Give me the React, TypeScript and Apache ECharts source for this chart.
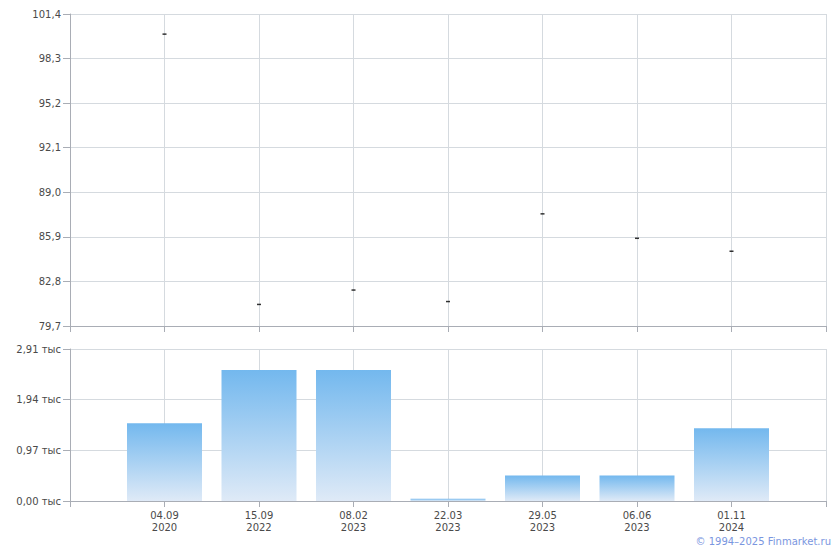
import React, { useEffect, useRef } from "react";
import * as echarts from "echarts";

// ---- data ----
const dateLabels = ["04.09\n2020", "15.09\n2022", "08.02\n2023", "22.03\n2023", "29.05\n2023", "06.06\n2023", "01.11\n2024"];
const prices = [100.0, 81.2, 82.2, 81.4, 87.5, 85.8, 84.9];
const volumes = [1490, 2510, 2510, 45, 490, 490, 1395];
const priceMin = 79.7;
const priceStep = 3.1;
const priceTickLabels = ["79,7", "82,8", "85,9", "89,0", "92,1", "95,2", "98,3", "101,4"];
const volumeStep = 970;
const volumeTickLabels = ["0,00 тыс", "0,97 тыс", "1,94 тыс", "2,91 тыс"];
const copyright = "© 1994–2025 Finmarket.ru";

const FONT = "DejaVu Sans, Verdana, sans-serif";
const AXIS = "#a9adb5";
const GRIDC = "#d5dadf";
const TXT = "#4a4a4a";

export default function App() {
  const ref = useRef<HTMLDivElement>(null);
  useEffect(() => {
    if (!ref.current) return;
    const chart = echarts.init(ref.current, undefined, { renderer: "svg" });
    const cats = ["", ...dateLabels, ""];
    const priceData: any[] = ["-", ...prices.map((p) => (p - priceMin) / priceStep), "-"];
    const volData: any[] = ["-", ...volumes, "-"];
    const xCommon = {
      type: "category",
      data: cats,
      boundaryGap: false,
      axisLine: { show: true, lineStyle: { color: AXIS, width: 1 } },
      axisTick: { show: true, interval: 0, length: 6, lineStyle: { color: AXIS } },
      splitLine: { show: true, interval: 0, lineStyle: { color: GRIDC, width: 1 } },
    };
    chart.setOption({
      animation: false,
      backgroundColor: "#ffffff",
      grid: [
        { left: 70, top: 14, width: 756, height: 312, containLabel: false },
        { left: 70, top: 349, width: 756, height: 152, containLabel: false },
      ],
      xAxis: [
        { ...xCommon, gridIndex: 0, axisLabel: { show: false } },
        {
          ...xCommon,
          gridIndex: 1,
          axisLabel: {
            show: true,
            interval: 0,
            margin: 8,
            color: TXT,
            fontFamily: FONT,
            fontSize: 10,
            lineHeight: 12,
            align: "center",
          },
        },
      ],
      yAxis: [
        {
          type: "value",
          gridIndex: 0,
          min: 0,
          max: priceTickLabels.length - 1,
          interval: 1,
          axisLine: { show: true, lineStyle: { color: AXIS } },
          axisTick: { show: true, length: 7, lineStyle: { color: AXIS } },
          splitLine: { show: true, lineStyle: { color: GRIDC } },
          axisLabel: {
            margin: 9,
            color: TXT,
            fontFamily: FONT,
            fontSize: 10,
            formatter: (v: number) => priceTickLabels[Math.round(v)] ?? "",
          },
        },
        {
          type: "value",
          gridIndex: 1,
          min: 0,
          max: volumeStep * (volumeTickLabels.length - 1),
          interval: volumeStep,
          axisLine: { show: true, lineStyle: { color: AXIS } },
          axisTick: { show: true, length: 7, lineStyle: { color: AXIS } },
          splitLine: { show: true, lineStyle: { color: GRIDC } },
          axisLabel: {
            margin: 9,
            color: TXT,
            fontFamily: FONT,
            fontSize: 10,
            formatter: (v: number) => volumeTickLabels[Math.round(v / volumeStep)] ?? "",
          },
        },
      ],
      series: [
        {
          type: "scatter",
          xAxisIndex: 0,
          yAxisIndex: 0,
          data: priceData,
          symbol: "rect",
          symbolSize: [4, 1.5],
          itemStyle: { color: "#000000" },
          silent: true,
        },
        {
          type: "bar",
          xAxisIndex: 1,
          yAxisIndex: 1,
          data: volData,
          barWidth: 75,
          itemStyle: {
            color: new echarts.graphic.LinearGradient(0, 0, 0, 1, [
              { offset: 0, color: "#73b8ee" },
              { offset: 1, color: "#dfeaf7" },
            ]),
          },
          silent: true,
        },
      ],
      graphic: [
        {
          type: "text",
          right: 9,
          top: 536,
          style: { text: copyright, fill: "#7a96e0", font: `10px ${FONT}` },
        },
      ],
    });
    return () => chart.dispose();
  }, []);
  return (
    <div
      ref={ref}
      style={{ position: "fixed", left: 0, top: 0, width: 840, height: 550, background: "#fff" }}
    />
  );
}
